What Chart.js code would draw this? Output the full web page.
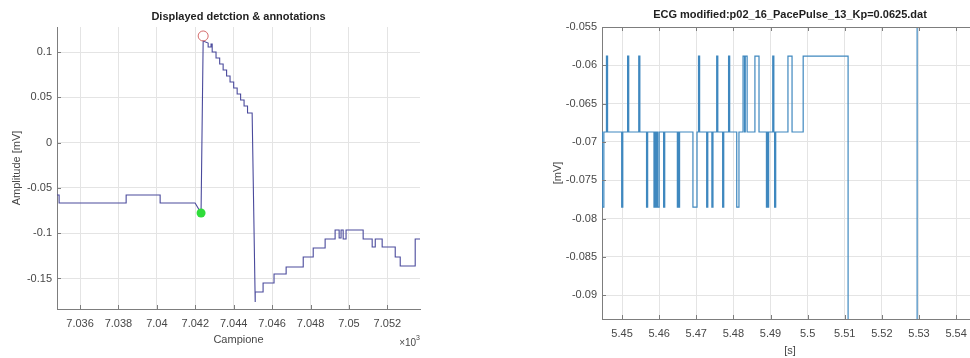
<!DOCTYPE html>
<html>
<head>
<meta charset="utf-8">
<script src="https://cdn.jsdelivr.net/npm/chart.js@4.4.1/dist/chart.umd.min.js"></script>
<style>
    html, body { margin: 0; padding: 0; background: #fff; }
    body { width: 970px; height: 358px; overflow: hidden; position: relative; }
    canvas { position: absolute; top: 0; }
    #left-chart { left: 0; }
    #right-chart { left: 500px; }
</style>
</head>
<body>
<canvas id="left-chart" width="440" height="358"></canvas>
<canvas id="right-chart" width="500" height="358"></canvas>
<script>
// Left panel: detection around the pace pulse (x in samples, y in mV)
const leftSample = [
    7034.80, 7034.91, 7034.91, 7038.40, 7038.40, 7040.17, 7040.17, 7041.99, 7042.30, 7042.41,
    7042.67, 7042.67, 7042.82, 7042.82, 7042.88, 7042.88, 7043.08, 7043.08, 7043.27, 7043.27,
    7043.45, 7043.45, 7043.63, 7043.63, 7043.81, 7043.81, 7044.00, 7044.00, 7044.18, 7044.18,
    7044.36, 7044.36, 7044.54, 7044.54, 7044.72, 7044.72, 7044.96, 7045.12, 7045.12, 7045.53,
    7045.53, 7046.10, 7046.10, 7046.73, 7046.73, 7047.62, 7047.62, 7048.14, 7048.14, 7048.76,
    7048.76, 7049.28, 7049.28, 7049.49, 7049.49, 7049.59, 7049.59, 7049.70, 7049.70, 7049.85,
    7049.85, 7050.74, 7050.74, 7051.21, 7051.21, 7051.37, 7051.37, 7051.73, 7051.73, 7052.41,
    7052.41, 7052.67, 7052.67, 7053.45, 7053.45, 7053.71
];
const leftAmp = [
    -0.0578, -0.0578, -0.0667, -0.0667, -0.0578, -0.0578, -0.0667, -0.0667, -0.0777, 0.1121,
    0.1099, 0.1055, 0.1055, 0.1088, 0.1088, 0.1000, 0.1000, 0.0934, 0.0934, 0.0868,
    0.0868, 0.0801, 0.0801, 0.0735, 0.0735, 0.0669, 0.0669, 0.0603, 0.0603, 0.0536,
    0.0536, 0.0470, 0.0470, 0.0404, 0.0404, 0.0327, 0.0327, -0.1760, -0.1649, -0.1649,
    -0.1550, -0.1550, -0.1450, -0.1450, -0.1373, -0.1373, -0.1263, -0.1263, -0.1163, -0.1163,
    -0.1064, -0.1064, -0.0965, -0.0965, -0.1053, -0.1053, -0.0965, -0.0965, -0.1064, -0.1064,
    -0.0965, -0.0965, -0.1064, -0.1064, -0.1152, -0.1152, -0.1064, -0.1064, -0.1152, -0.1152,
    -0.1263, -0.1263, -0.1362, -0.1362, -0.1064, -0.1064
];
const onsetMark = [7042.30, -0.0777];   // green dot
const peakMark = [7042.41, 0.1177];     // red circle
const leftXTicks = [7036, 7038, 7040, 7042, 7044, 7046, 7048, 7050, 7052];
const leftYTicks = [-0.15, -0.1, -0.05, 0, 0.05, 0.1];

// Right panel: modified ECG (x in s, y in mV), sample-and-hold values
const rightTime = [
    5.4440, 5.4447, 5.4451, 5.4458, 5.4461, 5.4499, 5.4502, 5.4515, 5.4518, 5.4545,
    5.4548, 5.4566, 5.4569, 5.4586, 5.4588, 5.4590, 5.4593, 5.4596, 5.4600, 5.4612,
    5.4615, 5.4649, 5.4651, 5.4653, 5.4655, 5.4691, 5.4702, 5.4706, 5.4709, 5.4728,
    5.4731, 5.4742, 5.4745, 5.4755, 5.4758, 5.4771, 5.4774, 5.4787, 5.4790, 5.4809,
    5.4815, 5.4826, 5.4830, 5.4832, 5.4837, 5.4858, 5.4869, 5.4889, 5.4891, 5.4893,
    5.4895, 5.4906, 5.4909, 5.4911, 5.4914, 5.4947, 5.4958, 5.4988, 5.5109, 5.5295,
    5.5460
];
const rightAmp = [
    -0.0687, -0.0785, -0.0687, -0.0588, -0.0687, -0.0785, -0.0687, -0.0588, -0.0687, -0.0588,
    -0.0687, -0.0785, -0.0687, -0.0785, -0.0687, -0.0785, -0.0687, -0.0785, -0.0687, -0.0785,
    -0.0687, -0.0785, -0.0687, -0.0785, -0.0687, -0.0785, -0.0687, -0.0588, -0.0687, -0.0785,
    -0.0687, -0.0785, -0.0687, -0.0588, -0.0687, -0.0785, -0.0687, -0.0588, -0.0687, -0.0785,
    -0.0687, -0.0588, -0.0687, -0.0588, -0.0687, -0.0588, -0.0687, -0.0785, -0.0687, -0.0785,
    -0.0687, -0.0588, -0.0687, -0.0785, -0.0687, -0.0588, -0.0687, -0.0588, -0.1200, -0.0300,
    -0.0300
];
const rightXTicks = [5.45, 5.46, 5.47, 5.48, 5.49, 5.5, 5.51, 5.52, 5.53, 5.54];
const rightYTicks = [-0.09, -0.085, -0.08, -0.075, -0.07, -0.065, -0.06, -0.055];

const FONT = "'Liberation Sans', Arial, Helvetica, sans-serif";
const AXIS_COLOR = '#7d7d7d';
const GRID_COLOR = '#e4e4e4';
const TEXT_COLOR = '#474747';

Chart.defaults.font.family = FONT;
Chart.defaults.font.size = 11;
Chart.defaults.color = TEXT_COLOR;

function formatTick(v) {
    return Number(v.toFixed(4)).toString();
}

function toPoints(xs, ys) {
    return xs.map((x, i) => ({ x: x, y: ys[i] }));
}

// Matlab-like extras: title, inward tick marks, box, exponent label
const matlabAxes = {
    id: 'matlabAxes',
    afterDraw(chart, args, opts) {
        const ctx = chart.ctx;
        const a = chart.chartArea;
        const xs = chart.scales.x;
        const ys = chart.scales.y;
        ctx.save();
        ctx.strokeStyle = AXIS_COLOR;
        ctx.lineWidth = 1;
        ctx.beginPath();
        xs.ticks.forEach(t => {
            const px = Math.round(xs.getPixelForValue(t.value)) + 0.5;
            ctx.moveTo(px, a.bottom);
            ctx.lineTo(px, a.bottom - 4);
            if (opts.box) {
                ctx.moveTo(px, a.top);
                ctx.lineTo(px, a.top + 4);
            }
        });
        ys.ticks.forEach(t => {
            const py = Math.round(ys.getPixelForValue(t.value)) + 0.5;
            ctx.moveTo(a.left, py);
            ctx.lineTo(a.left + 4, py);
        });
        if (opts.box) {
            ctx.moveTo(a.left, Math.round(a.top) + 0.5);
            ctx.lineTo(a.right, Math.round(a.top) + 0.5);
            ctx.moveTo(Math.round(a.right) - 0.5, a.top);
            ctx.lineTo(Math.round(a.right) - 0.5, a.bottom);
        }
        ctx.stroke();

        ctx.fillStyle = '#1e1e1e';
        ctx.font = 'bold 11px ' + FONT;
        ctx.textAlign = 'center';
        ctx.textBaseline = 'middle';
        ctx.fillText(opts.title, (a.left + a.right) / 2, opts.titleY);

        if (opts.exponent) {
            ctx.fillStyle = TEXT_COLOR;
            ctx.textAlign = 'right';
            ctx.font = '7px ' + FONT;
            const w = ctx.measureText(opts.exponent).width;
            ctx.fillText(opts.exponent, a.right, a.bottom + 29);
            ctx.font = '10px ' + FONT;
            ctx.fillText('\u00d710', a.right - w, a.bottom + 34);
        }
        ctx.restore();
    }
};

function fixedTicks(list) {
    return function(scale) {
        scale.ticks = list.map(v => ({ value: v }));
    };
}

// Left chart
new Chart(document.getElementById('left-chart').getContext('2d'), {
    type: 'line',
    data: {
        datasets: [
            {
                data: [{ x: peakMark[0], y: peakMark[1] }],
                showLine: false,
                pointRadius: 5,
                pointBorderWidth: 1,
                pointBorderColor: '#d46a6a',
                pointBackgroundColor: 'rgba(0,0,0,0)'
            },
            {
                data: [{ x: onsetMark[0], y: onsetMark[1] }],
                showLine: false,
                pointRadius: 4.5,
                pointBorderWidth: 0,
                pointBackgroundColor: '#2fdc3a'
            },
            {
                data: toPoints(leftSample, leftAmp),
                borderColor: '#4a4a9c',
                borderWidth: 1.1,
                pointRadius: 0,
                tension: 0
            }
        ]
    },
    options: {
        responsive: false,
        animation: false,
        events: [],
        devicePixelRatio: 1,
        layout: { padding: { left: 0, right: 20, top: 27, bottom: 0 } },
        scales: {
            x: {
                type: 'linear',
                min: 7034.8,
                max: 7053.7,
                afterFit: s => { s.height = 49; },
                afterBuildTicks: fixedTicks(leftXTicks),
                ticks: { padding: 8, maxRotation: 0, autoSkip: false, callback: v => formatTick(v / 1000) },
                grid: { color: GRID_COLOR, drawTicks: false },
                border: { color: AXIS_COLOR },
                title: { display: true, text: 'Campione', padding: { top: 0, bottom: 11 } }
            },
            y: {
                type: 'linear',
                min: -0.1837,
                max: 0.1276,
                afterFit: s => { s.width = 57; },
                afterBuildTicks: fixedTicks(leftYTicks),
                ticks: { padding: 5, autoSkip: false, callback: v => formatTick(v) },
                grid: { color: GRID_COLOR, drawTicks: false },
                border: { color: AXIS_COLOR },
                title: { display: true, text: 'Amplitude [mV]', padding: { top: 10, bottom: 0 } }
            }
        },
        plugins: {
            legend: { display: false },
            tooltip: { enabled: false },
            matlabAxes: { title: 'Displayed detction & annotations', titleY: 17, box: false, exponent: '3' }
        }
    },
    plugins: [matlabAxes]
});

// Right chart
new Chart(document.getElementById('right-chart').getContext('2d'), {
    type: 'line',
    data: {
        datasets: [
            {
                data: toPoints(rightTime, rightAmp),
                stepped: true,
                borderColor: '#3f88bf',
                borderWidth: 1.2,
                pointRadius: 0,
                tension: 0
            }
        ]
    },
    options: {
        responsive: false,
        animation: false,
        events: [],
        devicePixelRatio: 1,
        layout: { padding: { left: 40, right: 22, top: 27, bottom: 0 } },
        scales: {
            x: {
                type: 'linear',
                min: 5.4446,
                max: 5.5459,
                afterFit: s => { s.height = 39; },
                afterBuildTicks: fixedTicks(rightXTicks),
                ticks: { padding: 8, maxRotation: 0, autoSkip: false, callback: v => formatTick(v) },
                grid: { color: GRID_COLOR, drawTicks: false },
                border: { color: AXIS_COLOR },
                title: { display: true, text: '[s]', padding: { top: 0, bottom: 0 } }
            },
            y: {
                type: 'linear',
                min: -0.0931,
                max: -0.055,
                afterFit: s => { s.width = 62; },
                afterBuildTicks: fixedTicks(rightYTicks),
                ticks: { padding: 5, autoSkip: false, callback: v => formatTick(v) },
                grid: { color: GRID_COLOR, drawTicks: false },
                border: { color: AXIS_COLOR },
                title: { display: true, text: '[mV]', padding: { top: 11, bottom: 0 } }
            }
        },
        plugins: {
            legend: { display: false },
            tooltip: { enabled: false },
            matlabAxes: { title: 'ECG modified:p02_16_PacePulse_13_Kp=0.0625.dat', titleY: 15, box: true }
        }
    },
    plugins: [matlabAxes]
});
</script>
</body>
</html>
